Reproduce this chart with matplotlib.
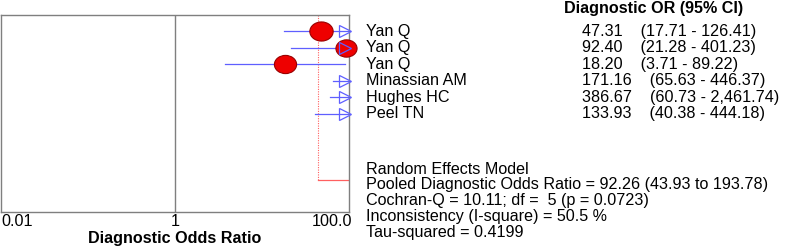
import numpy as np
import matplotlib
matplotlib.use("Agg")
import matplotlib.pyplot as plt
from matplotlib.path import Path
from matplotlib.transforms import Affine2D, ScaledTranslation, blended_transform_factory

# ---- data ----
studies = ["Yan Q", "Yan Q", "Yan Q", "Minassian AM", "Hughes HC", "Peel TN"]
dor = [47.31, 92.40, 18.20, 171.16, 386.67, 133.93]
ci_low = [17.71, 21.28, 3.71, 65.63, 60.73, 40.38]
ci_high = [126.41, 401.23, 89.22, 446.37, 2461.74, 444.18]
weights = [1.05, 0.95, 1.0, 1.0, 1.0, 1.0]
pooled = 92.26
pooled_low = 43.93
pooled_high = 193.78
summary_lines = [
    "Random Effects Model",
    "Pooled Diagnostic Odds Ratio = 92.26 (43.93 to 193.78)",
    "Cochran-Q = 10.11; df =  5 (p = 0.0723)",
    "Inconsistency (I-square) = 50.5 %",
    "Tau-squared = 0.4199",
]
tick_vals = [0.01, 1, 100]
tick_labels = ["0.01", "1", "100.0"]

W, H = 787, 247
FONT = "Liberation Sans"
FS = 11.6
plt.rcParams["font.family"] = [FONT, "DejaVu Sans"]

fig = plt.figure(figsize=(W / 100, H / 100), dpi=100)
ax = fig.add_axes([1 / W, 1 - 212 / H, 348 / W, 197 / H])
ax.set_xscale("log")
ax.set_xlim(0.01, 100)
ax.set_ylim(11, -1)
ax.set_yticks([])

for s in ax.spines.values():
    s.set_color("#7f7f7f")
    s.set_linewidth(1.0)
ax.axvline(1, color="#7f7f7f", lw=1.0)

ax.set_xticks(tick_vals)
ax.set_xticklabels(tick_labels, fontsize=FS)
ax.xaxis.set_minor_locator(matplotlib.ticker.NullLocator())
ax.tick_params(axis="x", length=0, pad=1.5)
tl = ax.get_xticklabels()
tl[0].set_ha("left")
tl[-1].set_ha("right")
tl[-1].set_transform(tl[-1].get_transform() + ScaledTranslation(3 / 100, 0, fig.dpi_scale_trans))

blue = "#5f5fff"
ellipse = Path.unit_circle().transformed(Affine2D().scale(1.22, 1.0))
xmin, xmax = ax.get_xlim()
arrow_tr = ax.transData + ScaledTranslation(-4.5 / 100, 0, fig.dpi_scale_trans)

for i in range(len(studies)):
    lo = max(ci_low[i], xmin)
    hi = min(ci_high[i], xmax)
    ax.plot([lo, hi], [i, i], color=blue, lw=0.9, zorder=2)
    if xmin <= dor[i] <= xmax:
        ax.plot(dor[i], i, marker=ellipse, markersize=16 * weights[i],
                markerfacecolor="#ee0000", markeredgecolor="#990000",
                markeredgewidth=0.8, ls="none", zorder=3, clip_on=False)
    if ci_high[i] > xmax:
        ax.plot(xmax, i, marker=">", markersize=9, markerfacecolor="none",
                markeredgecolor=blue, markeredgewidth=0.9, ls="none",
                transform=arrow_tr, zorder=4, clip_on=False)

# pooled line (dotted vertical at lower CI edge, horizontal base)
red = "#ff6060"
ax.plot([pooled_low, pooled_low], [-1, 9.05], color=red, lw=0.8, ls=(0, (1, 1.2)), zorder=1)
ax.plot([pooled_low, xmax], [9.05, 9.05], color=red, lw=0.9, zorder=1)

# right-side texts
tr_rows = blended_transform_factory(fig.transFigure, ax.transData)
fig.text(564 / W, 1 - 8 / H, "Diagnostic OR (95% CI)", fontsize=FS, fontweight="bold",
         ha="left", va="center")
for i in range(len(studies)):
    ax.text(366 / W, i, studies[i], transform=tr_rows, fontsize=FS, ha="left", va="center")
    ci_str = f"({ci_low[i]:,.2f} - {ci_high[i]:,.2f})"
    ax.text(582 / W, i, f"{dor[i]:.2f}    {ci_str}", transform=tr_rows,
            fontsize=FS, ha="left", va="center")

for k, line in enumerate(summary_lines):
    fig.text(366 / W, 1 - (169 + 15.8 * k) / H, line, fontsize=FS, ha="left", va="center")

fig.text(175 / W, 1 - 238 / H, "Diagnostic Odds Ratio", fontsize=FS, fontweight="bold",
         ha="center", va="center")

fig.savefig("out.png", dpi=100)
